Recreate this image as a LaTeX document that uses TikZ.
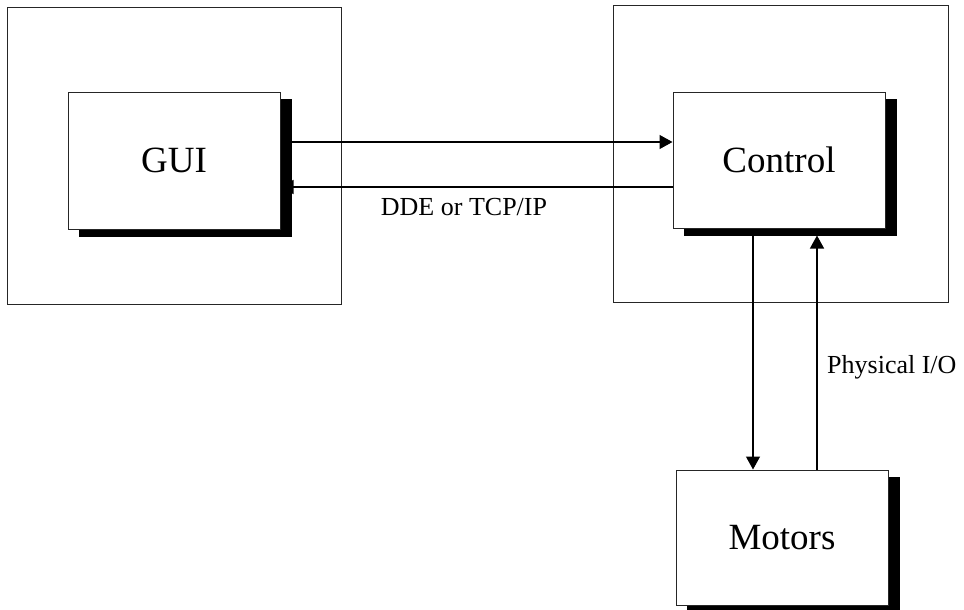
\documentclass[tikz,border=0pt]{standalone}
\usepackage{fontspec}
\setmainfont{Liberation Serif}
\usetikzlibrary{arrows.meta,backgrounds}
\begin{document}
\begin{tikzpicture}[x=1pt,y=-1pt,
  outerbox/.style={draw=black!85,line width=1pt,rectangle,inner sep=0pt},
  block/.style={draw=black!85,line width=1pt,fill=white,rectangle,inner sep=0pt,
    minimum width=212pt,font=\fontsize{37}{40}\selectfont},
  shadowbox/.style={fill=black},
  conn/.style={line width=1.3pt,-{Triangle[length=13pt,width=14pt]}},
  lbl/.style={inner sep=0pt,font=\fontsize{26}{28}\selectfont}]
\useasboundingbox (0,0) rectangle (964,610);
% blocks
\node[block,minimum height=137pt] (GUI) at (174,160.5) {GUI};
\node[block,minimum height=136pt] (Control) at (779,160) {Control};
\node[block,minimum height=135pt] (Motors) at (782,537.5) {Motors};
\begin{scope}[on background layer]
  % outer frames
  \node[outerbox,minimum width=334pt,minimum height=296pt] (guiframe) at (174,156) {};
  \node[outerbox,minimum width=335pt,minimum height=296pt] (ctrlframe) at (780.5,154) {};
  % connectors
  \draw[conn] ([xshift=-2pt,yshift=18.5pt]GUI.east) coordinate (a1) -- (Control.west |- a1);
  \draw[conn] ([yshift=-27pt]Control.west) coordinate (a2) -- (GUI.east |- a2);
  \draw[conn] ([xshift=-26pt]Control.south) coordinate (a3) -- (Motors.north -| a3);
  \coordinate (cshadow) at ([yshift=-7pt]Control.south);
  \draw[conn] ([xshift=35pt]Motors.north) coordinate (a4) -- (a4 |- cshadow);
  % shadows
  \fill[shadowbox] ([shift={(11pt,-7pt)}]GUI.north west) rectangle ([shift={(11pt,-7pt)}]GUI.south east);
  \fill[shadowbox] ([shift={(11pt,-7pt)}]Control.north west) rectangle ([shift={(11pt,-7pt)}]Control.south east);
  \fill[shadowbox] ([shift={(11pt,-7pt)}]Motors.north west) rectangle ([shift={(11pt,-7pt)}]Motors.south east);
\end{scope}
% labels
\node[lbl,anchor=base] (ddelbl) at (464,215) {DDE or TCP/IP};
\node[lbl,anchor=base west] (iolbl) at (827,373) {Physical I/O};
\end{tikzpicture}
\end{document}
